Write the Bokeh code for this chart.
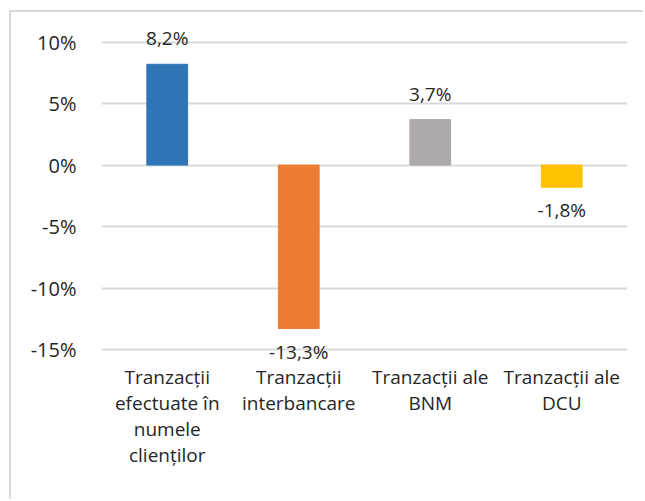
from bokeh.plotting import figure
from bokeh.models import Range1d, FactorRange, FixedTicker, PrintfTickFormatter, ColumnDataSource
from bokeh.embed import file_html
from bokeh.resources import INLINE
from bokeh.core.properties import value

# ---- data ----
categories = [
    "Tranzacții\nefectuate în\nnumele\nclienților",
    "Tranzacții\ninterbancare",
    "Tranzacții ale\nBNM",
    "Tranzacții ale\nDCU",
]
values = [8.2, -13.3, 3.7, -1.8]
colors = ["#2E75B6", "#ED7D31", "#AEAAAA", "#FFC000"]
y_ticks = [-15, -10, -5, 0, 5, 10]

FONT = "Open Sans"
TEXT_COLOR = "#262626"

labels = [f"{v:.1f}".replace(".", ",") + "%" for v in values]
pos = [v >= 0 for v in values]

src_pos = ColumnDataSource(dict(
    x=[c for c, p_ in zip(categories, pos) if p_],
    y=[v for v, p_ in zip(values, pos) if p_],
    t=[l for l, p_ in zip(labels, pos) if p_],
))
src_neg = ColumnDataSource(dict(
    x=[c for c, p_ in zip(categories, pos) if not p_],
    y=[v for v, p_ in zip(values, pos) if not p_],
    t=[l for l, p_ in zip(labels, pos) if not p_],
))
src_bar = ColumnDataSource(dict(x=categories, top=values, color=colors))

p = figure(
    width=634, height=489,
    x_range=FactorRange(*categories, range_padding=0),
    y_range=Range1d(-16.06, 12.25),
    output_backend="svg", toolbar_location=None,
    min_border_left=90, min_border_right=18, min_border_top=2, min_border_bottom=139,
)
p.styles = {
    "margin-left": "9px", "margin-top": "10px",
    "border-top": "2px solid #D9D9D9", "border-left": "2px solid #D9D9D9",
    "border-right": "none", "border-bottom": "none",
    "outline": "none", "box-shadow": "none",
}
p.outline_line_color = None
p.background_fill_color = "white"
p.border_fill_color = "white"

p.vbar(x="x", top="top", bottom=0, width=0.31, color="color", source=src_bar)

p.text(x="x", y="y", text="t", source=src_pos, text_align="center", text_baseline="middle",
       y_offset=-26, text_font=value(FONT), text_font_size="19px", text_color=TEXT_COLOR)
p.text(x="x", y="y", text="t", source=src_neg, text_align="center", text_baseline="middle",
       y_offset=23, text_font=value(FONT), text_font_size="19px", text_color=TEXT_COLOR)

# grid
p.xgrid.grid_line_color = None
p.ygrid.ticker = FixedTicker(ticks=y_ticks)
p.ygrid.grid_line_color = "#D9D9D9"
p.ygrid.grid_line_width = 2

# y axis
p.yaxis.ticker = FixedTicker(ticks=y_ticks)
p.yaxis.formatter = PrintfTickFormatter(format="%d%%")
p.yaxis.axis_line_color = None
p.yaxis.major_tick_line_color = None
p.yaxis.minor_tick_line_color = None
p.yaxis.major_label_standoff = 19
p.yaxis.major_label_text_font = FONT
p.yaxis.major_label_text_font_size = "20px"
p.yaxis.major_label_text_color = TEXT_COLOR

# x axis
p.xaxis.axis_line_color = None
p.xaxis.major_tick_line_color = None
p.xaxis.major_tick_out = 0
p.xaxis.major_label_standoff = 1
p.xaxis.major_label_text_font = FONT
p.xaxis.major_label_text_font_size = "19px"
p.xaxis.major_label_text_color = TEXT_COLOR
p.xaxis.major_label_text_line_height = 1.0

open("out.html", "w").write(file_html(p, INLINE))
